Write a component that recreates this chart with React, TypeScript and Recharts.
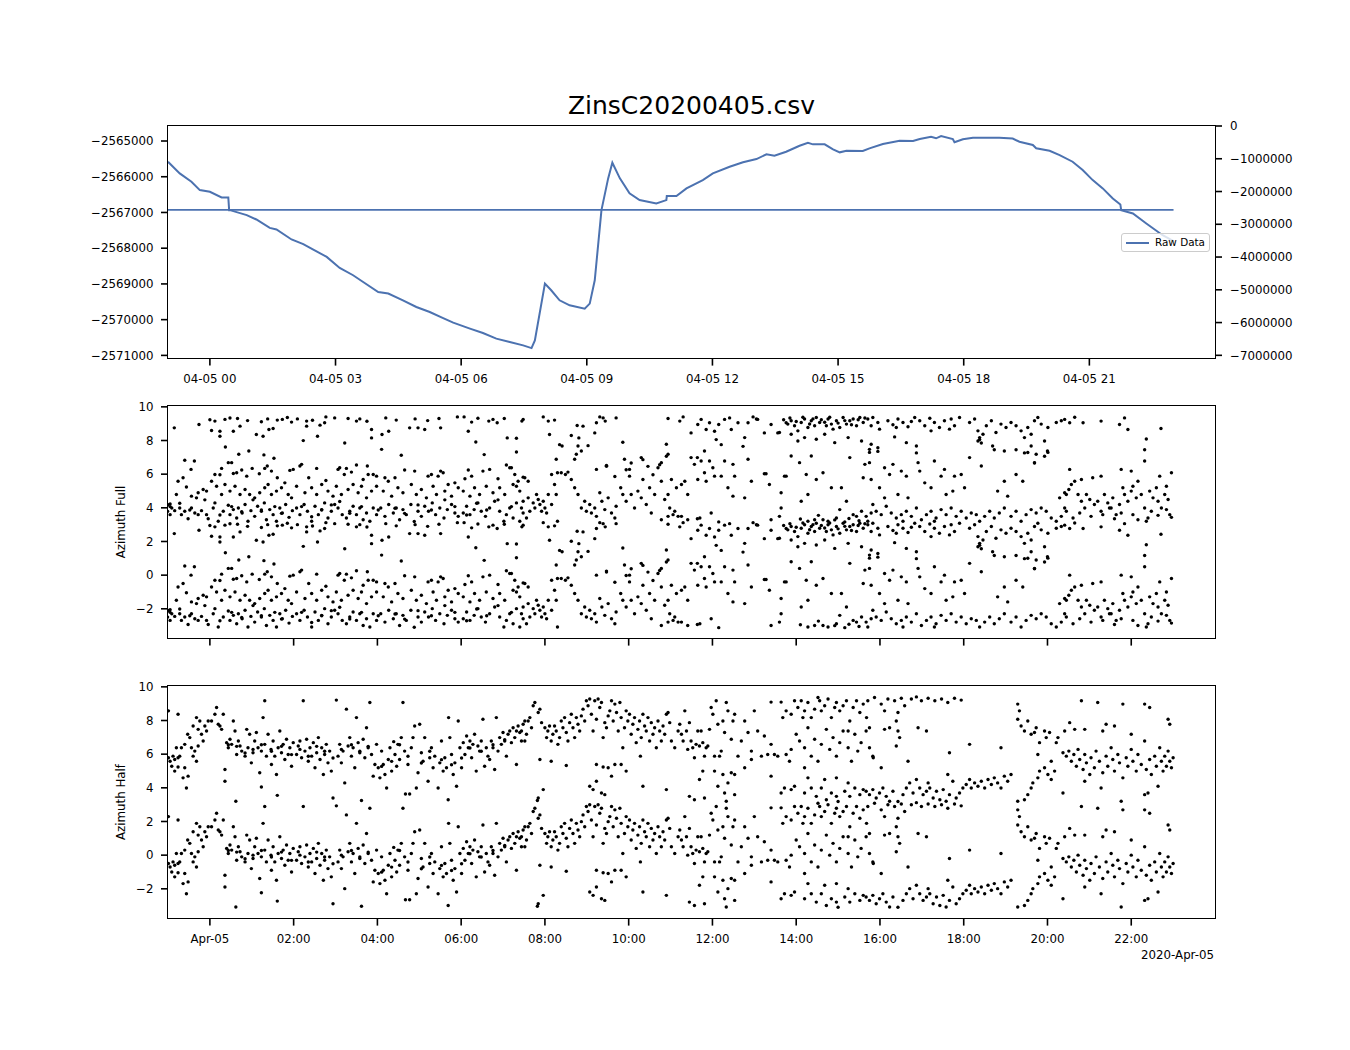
import React from 'react'
import { ComposedChart, Line, ScatterChart, Scatter, XAxis, YAxis } from 'recharts'

const TITLE = 'ZinsC20200405.csv'
const DATE_OFFSET = '2020-Apr-05'
const BLUE = '#4c72b0'
const TWO_PI = 2 * Math.PI

// hours after 2020-04-05 00:00
const rawHours = [
  -1.0, -0.72, -0.44, -0.24, 0.0, 0.28, 0.44, 0.46, 0.48, 0.88, 1.11, 1.43, 1.59, 1.95, 2.23, 2.47, 2.79,
  3.1, 3.42, 3.66, 4.02, 4.26, 4.61, 4.93, 5.25, 5.57, 5.81, 6.21, 6.52, 6.84, 7.16, 7.48, 7.68, 7.76,
  8.0, 8.15, 8.35, 8.59, 8.95, 9.07, 9.19, 9.35, 9.51, 9.61, 9.79, 10.02, 10.26, 10.66, 10.9, 10.91,
  11.14, 11.38, 11.77, 12.01, 12.41, 12.73, 13.05, 13.29, 13.48, 13.76, 14.08, 14.28, 14.4, 14.68,
  14.88, 15.04, 15.2, 15.59, 15.75, 16.07, 16.47, 16.79, 16.95, 17.22, 17.34, 17.46, 17.74, 17.78,
  17.98, 18.22, 18.85, 19.17, 19.33, 19.65, 19.73, 20.05, 20.29, 20.6, 20.84, 21.08, 21.32, 21.56,
  21.74, 21.76, 22.04, 22.36, 22.75, 23.01,
]
const rawValues = [
  -2565580, -2565906, -2566141, -2566374, -2566422, -2566579, -2566579, -2566935, -2566935, -2567075,
  -2567196, -2567431, -2567476, -2567756, -2567888, -2568037, -2568244, -2568553, -2568757, -2568945,
  -2569226, -2569270, -2569458, -2569646, -2569786, -2569955, -2570084, -2570252, -2570375, -2570532,
  -2570628, -2570720, -2570796, -2570580, -2568990, -2569178, -2569458, -2569599, -2569691, -2569551,
  -2568898, -2566935, -2566046, -2565608, -2566046, -2566466, -2566654, -2566747, -2566654, -2566542,
  -2566542, -2566326, -2566094, -2565906, -2565720, -2565597, -2565505, -2565373, -2565412, -2565300,
  -2565132, -2565048, -2565093, -2565093, -2565233, -2565317, -2565272, -2565280, -2565205, -2565084,
  -2564992, -2565000, -2564944, -2564879, -2564924, -2564860, -2564944, -2565036, -2564952, -2564907,
  -2564907, -2564930, -2565020, -2565112, -2565205, -2565272, -2565393, -2565580, -2565813, -2566094,
  -2566326, -2566607, -2566775, -2566935, -2567027, -2567308, -2567636, -2567804,
]
// flat line on the right axis
const levelHours = [-1.0, 23.01]
const levelValues = [-2560000, -2560000]

const topTicks = [0, 3, 6, 9, 12, 15, 18, 21]
const topTickLabels = ['04-05 00', '04-05 03', '04-05 06', '04-05 09', '04-05 12', '04-05 15', '04-05 18', '04-05 21']
const leftTicks = [-2571000, -2570000, -2569000, -2568000, -2567000, -2566000, -2565000]
const rightTicks = [-7000000, -6000000, -5000000, -4000000, -3000000, -2000000, -1000000, 0]
const hourTicks = [0, 2, 4, 6, 8, 10, 12, 14, 16, 18, 20, 22]
const hourTickLabels = ['Apr-05', '02:00', '04:00', '06:00', '08:00', '10:00', '12:00', '14:00', '16:00', '18:00', '20:00', '22:00']
const azTicks = [-2, 0, 2, 4, 6, 8, 10]

// [hour, angle in -pi..pi]; each angle is also drawn one turn higher
const azFull = [
  [-1.01,-2.49],[-1.0,-2.1],[-0.95,-2.05],[-0.95,-2.69],[-0.91,-2.29],[-0.85,2.47],[-0.84,-2.45],[-0.8,-1.49],[-0.76,-0.7],[-0.72,-2.29],
  [-0.68,-2.69],[-0.64,-0.5],[-0.6,-2.49],[-0.6,0.54],[-0.56,-1.05],[-0.52,-2.93],[-0.45,0.0],[-0.44,-2.29],[-0.44,-1.59],[-0.37,0.5],
  [-0.36,-2.59],[-0.32,-1.69],[-0.28,-2.69],[-0.28,-1.39],[-0.26,2.67],[-0.2,-2.45],[-0.16,-1.19],[-0.08,-2.69],[-0.08,-1.29],[-0.04,-2.93],
  [-0.95,-2.21],[-0.72,-2.01],[-0.48,-2.41],[-0.12,-1.81],[0.24,-2.71],[0.52,-2.21],[0.76,-2.51],[1.03,-1.81],[1.23,-2.41],[1.55,-2.21],
  [1.71,-2.61],[2.19,-2.21],[2.43,-2.81],[2.67,-2.41],[2.9,-2.11],[3.1,-1.91],[3.34,-2.61],[3.62,-2.21],[4.02,-2.41],[4.42,-2.31],
  [4.65,-2.61],[4.97,-2.11],[5.29,-2.41],[5.61,-1.81],[5.85,-2.21],[6.13,-2.71],[6.37,-2.01],[6.61,-2.41],[6.88,-1.81],[7.2,-2.21],
  [0.0,2.95],[0.48,3.05],[0.9,2.9],[1.38,3.0],[1.85,3.08],[2.45,2.92],[3.3,3.02],[3.75,2.86],[4.2,3.06],[4.9,3.0],
  [5.2,2.9],[6.4,3.04],
  [0.04,2.31],[0.12,2.87],[0.24,2.27],[0.24,1.97],[0.36,2.97],[0.37,1.33],[0.56,2.27],[0.66,3.02],[0.69,0.9],[0.72,2.57],
  [0.93,1.09],[1.11,2.07],[1.23,2.83],[1.27,1.97],[1.29,0.86],[1.41,2.37],[1.51,2.43],[1.53,0.66],[1.61,2.93],[1.73,2.97],[1.95,2.81],
  [0.12,-0.3],[0.24,-0.32],[0.28,0.06],[0.44,0.4],[0.52,0.4],[0.56,-0.24],[0.64,-0.2],[0.76,-0.04],[0.88,-0.4],[1.01,0.06],
  [1.18,-0.26],[1.31,0.06],[1.37,0.2],[1.47,-0.1],[1.61,-0.5],[1.91,-0.06],[1.99,0.0],
  [0.04,-0.7],[0.16,-1.0],[0.28,-1.49],[0.36,-0.9],[0.48,-1.29],[0.6,-1.0],[0.72,-1.49],[0.84,-1.19],[0.95,-1.49],[1.07,-1.69],
  [1.19,-1.39],[1.31,-1.09],[1.39,-0.9],[1.47,-1.49],[1.59,-1.29],[1.71,-1.09],[1.79,-0.8],[1.87,-1.49],[1.95,-1.69],
  [0.08,-2.29],[0.12,-1.99],[0.2,-3.08],[0.32,-2.49],[0.44,-2.13],[0.48,-2.69],[0.56,-2.39],[0.64,-2.89],[0.68,-2.29],[0.77,-2.59],
  [0.84,-2.09],[0.91,-3.08],[0.98,-2.45],[1.07,-2.79],[1.14,-2.19],[1.23,-2.49],[1.3,-1.99],[1.35,-2.99],[1.43,-2.39],[1.51,-2.69],
  [1.59,-3.08],[1.67,-2.29],[1.73,-2.59],[1.81,-2.09],[1.89,-2.85],[1.97,-2.45],
  [2.09,3.0],[2.23,1.71],[2.31,2.87],[2.31,2.57],[2.57,1.97],[2.63,2.63],[2.74,2.77],[2.77,3.12],[2.98,3.06],[3.22,1.57],
  [3.5,2.87],[3.58,3.0],[3.86,2.37],[3.86,1.87],
  [2.15,0.2],[2.19,0.3],[2.36,-0.5],[2.55,0.06],[2.77,-0.66],[3.06,0.0],[3.1,0.1],[3.21,-0.3],[3.26,0.06],[3.38,-0.16],
  [3.5,0.26],[3.66,-0.6],[3.76,0.2],[3.78,-0.3],[3.9,-0.3],[3.98,-0.4],
  [2.07,-1.0],[2.27,-1.39],[2.43,-1.09],[2.55,-1.49],[2.67,-0.9],[2.82,-1.29],[2.94,-1.59],[3.02,-1.0],[3.14,-1.49],[3.3,-1.19],
  [3.42,-0.9],[3.54,-1.39],[3.62,-1.0],[3.74,-1.69],[3.86,-1.29],[3.98,-1.0],
  [2.07,-2.29],[2.15,-2.69],[2.25,-2.09],[2.33,-2.49],[2.43,-3.08],[2.51,-2.19],[2.59,-2.69],[2.67,-2.39],[2.74,-1.99],[2.82,-2.89],
  [2.9,-2.49],[2.98,-2.09],[3.06,-2.29],[3.16,-2.69],[3.26,-2.89],[3.34,-2.49],[3.42,-2.19],[3.5,-2.69],[3.58,-2.29],[3.66,-2.99],
  [3.74,-2.59],[3.82,-3.08],[3.9,-2.29],[3.98,-2.69],
  [4.11,2.07],[4.27,2.27],[4.45,2.93],[4.57,0.84],[4.77,2.47],[4.97,2.47],[5.13,2.37],[5.47,3.02],[5.51,2.47],[5.91,3.12],[4.1,1.19],
  [4.65,-0.04],[4.89,-0.1],[5.21,-0.4],[5.29,-0.3],[5.51,-0.1],[5.45,-0.4],[5.57,-0.2],[5.69,-0.9],[5.85,-0.8],[4.18,-0.5],
  [4.26,-0.7],[4.42,-0.5],
  [4.14,-1.29],[4.34,-1.59],[4.49,-1.09],[4.61,-1.39],[4.81,-0.9],[4.93,-1.49],[5.05,-1.19],[5.17,-1.69],[5.33,-1.0],[5.41,-1.49],
  [5.61,-1.29],[5.77,-1.59],[5.93,-1.09],
  [4.08,-2.29],[4.18,-2.79],[4.27,-2.09],[4.38,-2.59],[4.45,-2.29],[4.53,-2.99],[4.61,-2.39],[4.69,-2.69],[4.8,-2.09],[4.88,-3.1],
  [4.97,-2.49],[5.05,-2.79],[5.13,-2.19],[5.22,-2.49],[5.31,-1.99],[5.39,-2.69],[5.49,-2.29],[5.59,-2.89],[5.67,-2.39],[5.77,-2.09],
  [5.85,-2.59],[5.93,-2.79],
  [6.07,3.12],[6.17,2.27],[6.25,2.81],[6.35,1.63],[6.55,0.88],[6.66,2.87],[6.76,2.97],[6.86,2.77],[7.03,3.02],[7.1,1.87],
  [7.32,1.03],[7.32,1.85],[7.45,2.87],
  [6.17,-0.04],[6.09,-0.56],[6.25,-0.4],[6.52,-0.1],[6.68,0.0],[6.88,-0.56],[7.08,0.26],[7.16,0.1],[7.2,0.1],[7.28,-0.3],
  [7.36,-0.7],[7.48,-0.46],
  [6.05,-1.29],[6.21,-1.59],[6.32,-1.09],[6.44,-1.49],[6.6,-1.0],[6.76,-1.39],[6.92,-1.09],[7.04,-1.49],[7.24,-0.9],[7.4,-1.29],
  [6.05,-2.59],[6.13,-2.19],[6.21,-2.69],[6.31,-2.39],[6.4,-1.99],[6.48,-2.49],[6.58,-2.79],[6.68,-2.29],[6.8,-1.89],[6.92,-2.49],
  [7.02,-3.08],[7.08,-2.69],[7.16,-2.29],[7.24,-2.89],[7.32,-1.99],[7.4,-3.08],[7.48,-2.59],
  [7.32,-1.0],[7.52,-0.5],[7.6,-0.7],[7.48,-1.89],[7.6,-1.69],[7.72,-1.99],[7.76,-2.29],[7.84,-1.79],[7.88,-2.09],
  [7.96,-1.89],[8.0,-2.29],[8.04,-2.59],[8.08,-1.49],[8.16,-2.09],[7.44,-2.29],[7.56,-2.89],[7.64,-2.49],[7.92,-2.49],
  [7.8,-1.49],[8.23,-0.9],[8.27,-1.49],[8.3,-3.08],[8.16,-0.3],[8.3,-0.2],[8.39,-0.2],[8.49,-0.3],[8.55,-0.16],[8.27,0.6],
  [8.71,0.6],[8.75,0.9],[8.87,1.09],[8.63,-0.6],[8.71,-1.09],
  [7.48,2.97],[7.96,3.12],[8.08,2.87],[8.11,2.07],[8.23,2.93],[8.35,1.47],[8.41,1.39],[8.63,2.01],[8.77,2.61],[8.81,1.87],
  [8.91,2.57],[9.03,1.41],[9.19,2.17],[9.23,2.77],[9.31,3.12],[9.39,3.06],[9.44,2.87],[9.7,3.06],[9.86,1.61],
  [8.79,-1.49],[8.87,-2.29],[8.95,-1.89],[8.99,-2.49],[9.07,-2.09],[9.11,-2.59],[9.19,-2.29],[9.23,-2.79],[9.31,-1.39],[9.36,-1.89],
  [9.43,-2.39],[9.51,-1.69],[9.59,-2.59],[9.67,-2.89],[9.7,-2.19],[9.81,-1.09],[9.86,-1.49],[9.94,-1.89],[10.02,-0.4],[10.06,-1.49],
  [10.14,-2.29],[10.22,-1.29],[10.3,-1.69],[10.34,-0.6],[10.42,-2.09],[10.5,-1.09],[10.54,-2.59],[10.62,-1.49],[10.7,0.1],[10.78,-0.7],
  [10.86,-1.79],[10.94,-1.49],[10.98,-2.29],[11.06,-2.69],[11.14,-1.09],[11.18,-2.79],[11.26,-0.9],
  [9.23,0.0],[9.47,0.24],[9.9,0.6],[10.02,0.0],[10.3,0.7],[10.78,0.4],[10.94,0.9],[10.9,1.49],[8.79,1.39],
  [9.47,0.18],[9.67,-0.42],[9.94,-0.02],[10.06,0.38],[10.34,0.58],[10.46,0.18],[10.58,-0.32],[10.74,0.28],[10.9,0.78],
  [11.34,-0.7],[11.41,-1.49],[11.49,0.7],[11.57,0.3],[11.65,-0.6],[11.73,0.5],[11.81,-0.2],[11.85,-0.7],[11.93,0.5],[12.01,0.1],
  [12.05,-0.4],[12.21,-0.4],[12.29,0.5],[12.37,-1.09],[12.49,0.3],[12.53,-0.4],[12.49,-1.59],[12.77,-1.69],[12.85,0.6],[12.93,-0.7],
  [13.24,-0.26],[13.28,-0.26],[13.36,-0.9],[13.64,-1.39],[13.72,-0.4],[13.76,-0.4],[11.41,-2.99],[11.64,-2.93],[11.7,-2.89],[11.97,-2.59],
  [12.15,-3.12],[13.4,-2.99],[13.64,-2.29],[13.6,-2.79],[11.02,-0.6],[11.1,-2.49],[11.26,-2.79],[10.78,-2.99],[10.94,-2.79],[11.64,0.7],
  [11.81,1.09],
  [10.94,3.02],[11.22,2.87],[11.3,3.12],[11.49,2.17],[11.65,2.67],[11.73,2.97],[11.85,2.37],[11.93,2.77],[12.05,2.27],[12.09,1.77],
  [12.15,2.67],[12.21,1.47],[12.29,2.97],[12.41,3.06],[12.45,2.37],[12.61,2.77],[12.73,1.37],[12.85,2.77],[12.97,3.12],[13.08,2.97],
  [13.24,2.17],[13.4,2.67],[13.56,2.17],[13.76,2.77],[12.77,1.89],[13.05,2.99],[13.6,2.19],
  [13.8,2.69],[13.88,2.89],[13.96,2.59],[14.04,2.29],[14.12,2.79],[14.2,2.99],[14.28,2.49],[14.36,2.89],[14.44,2.59],[14.48,3.08],
  [14.56,2.79],[14.72,2.59],[14.76,2.99],[14.84,2.69],[14.88,2.39],[14.96,2.89],[15.04,2.49],[15.12,3.08],[15.2,2.69],[15.28,2.89],
  [15.36,2.99],[15.44,2.59],[15.52,3.08],[15.6,2.79],
  [13.7,2.95],[13.85,3.05],[14.0,2.85],[14.16,3.1],[14.32,2.7],[14.4,3.0],[14.6,2.95],[14.68,2.8],[14.8,3.1],[15.0,2.75],
  [15.16,2.9],[15.32,2.65],[15.48,2.95],[15.64,3.05],
  [13.88,2.09],[14.04,1.69],[14.2,1.89],[14.48,1.79],[14.68,2.09],[14.92,1.59],[15.24,1.89],[15.56,1.69],[15.79,1.49],
  [14.28,-3.08],[14.44,-2.99],[14.53,-2.73],[14.64,-2.99],[14.76,-3.08],[14.96,-2.89],[15.16,-3.12],[15.36,-2.69],[15.44,-2.79],[15.56,-2.49],
  [14.1,-2.95],[14.92,-3.0],[15.26,-2.92],[15.5,-3.05],
  [13.88,0.8],[14.08,0.4],[14.24,-0.3],[14.36,0.8],[14.48,-0.6],[14.64,-0.2],[14.84,-1.09],[15.08,-1.09],[15.2,-1.89],[15.28,0.7],
  [15.6,-0.5],[15.79,-0.6],[14.12,-1.89],[14.28,-1.49],[15.04,-2.39],[15.64,0.3],[15.83,-2.09],
  [15.71,2.99],[15.83,3.08],[15.95,2.79],[16.19,2.89],[16.31,2.65],[16.43,2.99],[16.55,2.79],[16.67,2.53],[16.83,3.08],[16.95,2.89],
  [17.07,2.59],[17.19,3.04],[17.3,2.79],[17.42,2.49],[17.54,2.89],[17.66,2.39],[17.78,2.59],[17.9,3.08],[15.79,2.59],[15.99,2.39],
  [16.39,2.49],[16.75,2.85],[17.22,2.29],[17.7,2.99],
  [15.67,-2.79],[15.79,-2.59],[15.91,-2.49],[16.03,-2.69],[16.15,-2.19],[16.27,-2.59],[16.39,-2.89],[16.51,-2.69],[16.63,-2.49],[16.75,-2.79],
  [16.87,-2.29],[16.99,-2.99],[17.11,-2.69],[17.22,-2.49],[17.34,-2.89],[17.46,-2.39],[17.58,-2.69],[17.7,-2.29],[17.82,-2.79],[17.94,-2.49],
  [15.71,-3.08],[16.55,-3.08],[17.3,-3.08],
  [15.75,1.19],[15.95,1.29],[15.75,0.4],[15.99,-1.09],[16.11,0.1],[16.23,-0.3],[16.31,0.3],[16.43,-1.49],[16.51,-0.1],[16.63,-0.4],
  [16.67,-1.69],[16.87,1.39],[16.91,0.4],[16.95,-0.1],[17.07,-0.8],[17.22,-1.09],[17.3,0.5],[17.46,-0.4],[17.54,0.0],[17.58,-1.49],
  [17.74,-1.29],[17.78,-0.4],[17.94,-0.3],[18.02,-1.09],[18.14,0.7],[16.11,-1.69],[16.63,1.59],[16.35,1.93],[15.95,1.07],[15.75,1.01],
  [16.87,0.98],
  [18.14,2.79],[18.26,2.99],[18.34,2.29],[18.38,1.89],[18.46,2.09],[18.54,2.59],[18.66,2.89],[18.77,2.19],[18.89,2.69],[19.01,2.49],
  [19.13,2.79],[19.25,2.59],[19.37,2.29],[19.45,1.89],[19.53,2.49],[19.61,2.09],[19.69,2.89],[19.77,3.08],[19.85,2.69],[19.93,1.69],
  [20.01,2.49],[20.21,2.79],[20.33,2.89],[18.34,1.69],[18.69,1.39],[18.97,1.09],[19.61,1.39],[19.73,0.9],[20.0,1.09],
  [18.06,-2.89],[18.18,-2.59],[18.3,-2.69],[18.38,-3.08],[18.5,-2.79],[18.62,-2.49],[18.73,-2.89],[18.85,-2.59],[18.97,-2.29],[19.13,-2.79],
  [19.25,-2.49],[19.37,-3.08],[19.49,-2.69],[19.61,-2.39],[19.73,-2.59],[19.85,-2.29],[19.97,-2.49],[20.09,-2.89],[20.21,-3.08],[20.33,-2.79],
  [20.41,-2.29],
  [18.42,0.2],[18.81,-1.29],[19.05,-1.59],[19.25,-0.3],[19.41,-0.7],[19.53,1.0],[19.69,0.4],[18.97,-0.7],[20.29,-1.69],[20.41,-1.39],
  [18.38,1.77],[18.42,1.57],[18.73,1.17],[19.25,1.17],[19.45,0.98],[19.69,0.38],[19.93,0.78],[20.01,1.01],
  [20.45,-1.49],[20.51,-1.19],[20.57,-0.9],[20.65,-0.7],[20.73,-1.49],[20.81,-1.89],[20.89,-2.29],[20.93,-1.49],[21.01,-1.79],[21.08,-0.5],
  [21.12,-2.09],[21.2,-1.89],[21.28,-2.49],[21.36,-1.49],[21.44,-1.99],[21.52,-2.29],[21.56,-1.69],[21.64,-2.69],[21.72,-2.09],[21.8,-1.09],
  [21.84,-1.49],[21.92,-1.89],[22.0,-1.29],[22.04,-1.0],[22.12,-1.69],[22.16,-0.7],[22.24,-1.49],[22.32,-2.29],[22.4,-2.89],[22.44,-1.29],
  [22.52,-1.69],[22.6,-1.09],[22.64,-1.89],[22.72,-2.29],[22.8,-1.49],[22.84,-1.0],[22.88,-1.79],[22.92,-2.69],[22.96,-0.2],[22.68,-0.4],
  [22.0,-0.1],[21.76,0.0],[22.32,0.5],[20.53,0.0],[20.81,-0.6],[21.28,-0.4],
  [20.41,2.97],[20.53,2.77],[20.65,3.1],[20.85,2.77],[21.28,2.87],[21.72,2.67],[21.84,3.06],[21.92,2.37],[22.36,1.81],[22.32,1.17],
  [22.71,2.43],
  [20.45,-2.49],[20.61,-2.89],[20.77,-2.59],[21.04,-2.79],[21.32,-2.69],[21.48,-2.29],[21.6,-2.93],[21.76,-2.59],[22.04,-2.69],[22.16,-2.99],
  [22.36,-3.08],[22.48,-2.49],[22.64,-2.73],[22.84,-2.39],[22.96,-2.85],
]

const azHalf = [
  [-0.99,-0.5],[-0.95,-0.7],[-0.91,-1.0],[-0.88,-0.4],[-0.84,-0.6],[-0.76,-0.5],[-0.72,-0.4],[-0.68,0.1],[-0.84,-1.29],[-0.8,0.1],
  [-0.76,-1.05],[-0.99,2.29],[-0.64,-1.69],[-0.6,-1.09],[-0.56,-2.29],[-0.52,-1.59],[-0.6,0.3],[-0.53,0.9],[-0.48,0.7],[-0.44,0.1],
  [-0.4,-0.4],[-0.36,-0.1],[-0.32,-0.7],[-0.28,0.2],[-0.28,1.19],[-0.24,1.69],[-0.2,0.9],[-0.16,0.5],[-0.12,1.39],[-0.08,1.09],
  [-0.04,1.69],[-0.4,1.39],[-0.76,2.09],[-0.32,1.89],
  [0.44,0.28],[0.64,0.18],[0.84,-0.21],[1.03,0.0],[1.23,0.28],[1.47,-0.11],[1.71,0.18],[1.95,-0.31],[2.15,0.0],[2.35,-0.41],
  [2.55,0.18],[2.74,-0.11],[2.94,-0.51],[3.14,0.0],[3.38,0.28],[3.58,-0.11],[3.78,0.18],[4.1,-1.01],[4.34,-0.71],[4.53,0.28],
  [4.73,-0.41],[5.05,-0.81],[5.25,-0.11],[5.53,-0.61],[5.77,-0.91],[6.01,-0.51],[6.21,0.08],[6.48,-0.11],[6.76,0.28],[7.04,0.58],
  [0.04,1.69],[0.12,2.09],[0.16,2.49],[0.2,1.49],[0.24,1.39],[0.28,1.19],[0.32,2.09],[0.36,-1.19],[0.36,-1.89],[0.4,0.4],
  [0.44,0.1],[0.48,0.6],[0.52,0.3],[0.56,1.69],[0.6,1.09],[0.64,-0.3],[0.68,0.5],[0.72,0.2],[0.76,-0.1],[0.84,-0.4],
  [0.88,1.19],[0.91,0.1],[0.95,0.9],[0.99,-0.8],[1.03,-0.2],[1.07,0.5],[1.11,1.0],[1.15,0.1],[1.19,-1.39],[1.23,-0.1],
  [1.27,1.89],[1.31,0.3],[1.35,-0.4],[1.39,0.9],[1.46,0.0],[1.47,-0.9],[1.51,0.5],[1.55,-0.4],[1.59,-1.49],[1.63,0.1],
  [1.67,1.09],[1.71,-0.2],[1.75,0.3],[1.79,-0.6],[1.83,0.6],[1.87,-0.3],[1.91,0.1],[1.95,-1.0],[1.99,0.4],[0.62,-3.08],
  [1.61,-2.73],[1.23,-2.23],[1.31,2.89],
  [2.07,-0.3],[2.11,0.2],[2.15,0.5],[2.19,-0.5],[2.23,2.89],[2.27,-0.1],[2.31,0.6],[2.35,-0.7],[2.39,0.1],[2.43,-0.4],
  [2.47,0.4],[2.51,-1.09],[2.55,-0.2],[2.59,0.7],[2.63,-0.6],[2.67,0.1],[2.71,-1.49],[2.74,-0.3],[2.78,0.3],[2.82,-0.8],
  [2.86,-0.1],[2.9,-1.29],[2.94,-2.89],[3.02,2.93],[3.06,-0.4],[3.1,0.3],[3.14,-0.8],[3.18,-0.1],[3.22,-1.99],[3.26,2.39],
  [3.3,0.2],[3.34,0.7],[3.38,-0.4],[3.42,0.1],[3.46,-1.09],[3.5,1.89],[3.54,0.4],[3.58,-0.2],[3.62,-3.04],[3.66,0.6],
  [3.7,-0.5],[3.74,1.29],[3.78,0.1],[3.82,2.79],[3.86,-0.3],[3.9,-1.59],[3.94,-0.9],[3.98,0.3],[4.02,-1.09],
  [4.06,-1.69],[4.1,-0.1],[4.14,-0.9],[4.18,-1.49],[4.22,-2.29],[4.26,-0.6],[4.3,0.1],[4.34,-1.29],[4.39,0.46],[4.42,-0.3],
  [4.46,-1.0],[4.49,0.3],[4.53,-0.6],[4.57,0.7],[4.61,2.79],[4.65,-0.1],[4.67,-2.65],[4.73,-0.9],[4.77,-2.65],[4.81,0.1],
  [4.85,0.7],[4.89,1.39],[4.93,-2.29],[4.97,-1.39],[5.01,1.49],[5.05,-0.2],[5.09,-0.7],[5.13,0.7],[5.21,-1.89],[5.25,-0.5],
  [5.29,0.1],[5.33,-1.09],[5.37,-0.4],[5.45,-2.29],[5.49,-0.8],[5.53,0.5],[5.57,-1.29],[5.61,-0.5],[5.65,-1.09],[5.69,-2.99],
  [5.7,1.89],[5.73,0.7],[5.77,-0.3],[5.81,-1.49],[5.85,-0.8],[5.89,-2.19],[5.93,1.69],[5.97,0.1],
  [6.01,-1.09],[6.05,0.4],[6.09,-0.3],[6.13,0.8],[6.17,0.1],[6.21,0.5],[6.25,-0.5],[6.28,0.3],[6.32,0.9],[6.36,-1.29],
  [6.4,0.2],[6.44,-0.1],[6.48,0.5],[6.52,1.79],[6.56,-1.0],[6.6,0.1],[6.64,-0.4],[6.68,-0.6],[6.72,0.5],[6.76,0.1],
  [6.8,-1.19],[6.84,1.89],[6.88,-0.1],[6.92,0.7],[6.96,0.3],[7.0,1.0],[7.04,0.5],[7.08,-0.4],[7.12,0.9],[7.16,1.09],
  [7.2,0.4],[7.24,1.29],[7.28,0.7],[7.32,-0.9],[7.36,1.39],[7.4,1.0],[7.44,0.5],[7.48,1.49],[7.52,1.69],
  [7.32,1.09],[7.44,1.09],[7.52,0.5],[7.56,0.9],[7.6,1.69],[7.64,1.89],[7.68,1.29],
  [7.72,2.59],[7.76,2.79],[7.84,2.19],[7.88,2.39],[7.92,1.59],[8.0,1.29],[8.04,0.7],[8.07,1.09],[8.11,1.39],[8.15,0.5],
  [8.19,0.9],[8.23,1.39],[8.27,1.09],[8.31,0.3],[7.88,-0.6],[8.15,-0.7],[8.51,-0.96],[7.84,-2.89],[7.96,-2.39],
  [7.82,-3.04],
  [8.35,0.7],[8.39,1.69],[8.43,1.29],[8.47,1.89],[8.51,1.0],[8.55,0.5],[8.59,1.59],[8.63,2.09],[8.67,1.29],[8.71,0.7],
  [8.75,1.89],[8.79,1.49],[8.83,1.09],[8.87,1.99],[8.91,2.39],[8.95,1.69],[8.99,2.89],[9.03,2.59],[9.07,2.99],[9.11,2.09],
  [9.15,1.09],[9.19,2.89],[9.23,1.79],[9.27,2.99],[9.31,2.49],[9.35,2.79],[9.39,0.7],[9.43,1.59],[9.47,1.29],[9.51,1.99],
  [9.55,2.29],[9.59,2.89],[9.63,1.69],[9.67,2.69],[9.71,2.19],[9.75,1.09],[9.79,2.79],[9.82,1.89],[9.86,0.1],[9.9,1.29],
  [9.94,2.29],[9.98,1.69],[10.02,2.09],[10.06,0.9],[10.1,1.49],[10.14,1.89],[10.18,0.4],[10.22,1.19],[10.26,1.69],[10.3,0.7],
  [10.34,2.09],[10.38,1.39],[10.42,1.09],[10.46,1.89],[10.5,0.5],[10.54,1.59],[10.58,0.9],[10.62,1.29],[10.66,0.1],[10.7,1.69],
  [10.74,1.09],[10.78,0.5],[10.82,1.39],[10.86,0.9],[10.9,2.09],[10.94,2.19],[10.98,1.59],[11.02,0.5],[11.1,0.1],[11.18,1.09],
  [11.22,1.49],
  [9.23,-0.9],[9.39,-1.05],[9.51,-1.09],[9.67,-0.9],[9.82,-0.9],[9.94,-1.29],[9.59,-1.59],[9.07,-2.19],[9.15,-2.39],[9.23,-1.89],
  [9.35,-2.59],[9.43,-2.69],[10.34,-2.19],[10.9,-2.39],[10.28,-0.4],
  [11.26,0.9],[11.3,0.5],[11.34,2.29],[11.38,1.09],[11.41,0.0],[11.45,1.59],[11.49,0.5],[11.53,0.1],[11.57,-0.5],[11.61,0.3],
  [11.65,1.09],[11.69,0.2],[11.73,1.09],[11.77,0.4],[11.81,-0.4],[11.85,0.1],[11.89,0.2],[11.93,1.19],[11.97,2.49],[12.01,2.09],
  [12.05,-0.4],[12.09,2.89],[12.13,1.49],[12.17,-0.4],[12.21,-0.1],[12.25,1.69],[12.29,1.0],[12.33,2.79],[12.37,2.29],[12.45,0.6],
  [12.49,1.69],[12.53,2.09],[12.61,-0.4],[12.69,0.5],[12.77,1.69],[12.85,1.0],[12.93,-0.1],[13.0,2.29],[13.08,1.09],[13.17,-0.4],
  [13.24,0.8],[13.32,-0.3],[13.4,0.3],[13.48,-0.3],[13.56,-0.4],
  [11.45,-2.79],[11.57,-2.99],[11.69,-1.79],[11.77,-1.29],[11.81,-2.89],[12.05,-1.29],[12.13,-2.19],[12.25,-1.49],[12.29,-2.59],[12.33,-3.08],
  [12.37,-1.99],[12.45,-1.39],[12.53,-1.49],[12.53,-2.69],[12.77,-1.09],[12.93,-0.6],[13.4,-1.59],[13.64,-2.59],[13.4,2.81],
  [13.64,2.81],[13.68,1.89],[13.76,2.29],[13.88,2.09],[13.96,2.89],[14.04,2.49],[14.12,2.89],[14.16,1.89],[14.2,2.29],[14.28,2.79],
  [14.36,1.89],[14.44,2.39],[14.52,3.08],[14.56,2.89],[14.6,2.29],[14.68,2.59],[14.76,2.99],[14.84,1.89],[14.92,2.49],[14.96,2.79],
  [15.04,2.29],[15.12,2.59],[15.2,2.89],[15.28,1.69],[15.36,2.49],[15.44,2.89],[15.52,2.19],[15.6,2.69],[15.68,1.89],
  [13.76,-0.3],[13.88,0.0],[14.0,0.9],[14.08,0.5],[14.2,0.1],[14.28,1.29],[14.36,-0.4],[14.44,0.6],[14.52,-0.7],[14.6,0.3],
  [14.72,1.19],[14.8,0.0],[14.88,0.7],[14.96,-0.4],[15.04,0.4],[15.12,1.09],[15.24,0.1],[15.32,-0.7],[15.4,0.9],[15.47,-0.1],
  [15.55,0.4],[15.67,1.09],[15.75,0.1],[15.84,-0.5],[13.84,-0.7],[14.2,-1.09],[15.24,1.09],
  [13.72,-2.29],[13.88,-2.39],[13.96,-2.19],[14.2,-2.59],[14.36,-2.29],[14.48,-2.79],[14.6,-2.29],[14.72,-2.99],[14.84,-2.59],[14.96,-2.79],
  [15.0,-3.1],[15.16,-2.49],[15.28,-2.79],[15.4,-2.29],[15.52,-2.69],[15.6,-2.39],[14.28,-1.69],[14.68,-1.79],
  [14.96,-1.69],[15.24,-1.99],
  [15.67,-2.49],[15.75,-2.69],[15.83,-2.39],[15.91,-2.89],[15.99,-2.59],[16.07,-2.29],[16.15,-2.79],[16.23,-3.08],[16.31,-2.49],[16.43,-3.1],
  [16.55,-2.69],[16.63,-2.29],[16.71,-1.99],[16.79,-2.59],[16.87,-1.79],[16.95,-2.29],[17.03,-2.69],[17.11,-2.49],[17.19,-2.29],[17.27,-2.89],
  [17.35,-2.49],[17.43,-2.99],[17.51,-2.39],[17.58,-3.08],[17.66,-2.69],[17.74,-1.89],[17.82,-2.89],[17.9,-2.59],[17.98,-2.29],[18.06,-2.09],
  [18.14,-1.79],[18.18,-2.29],[18.26,-1.99],[18.34,-2.19],[18.42,-1.89],[18.5,-2.29],[18.58,-1.79],[18.66,-2.09],[18.73,-1.69],[18.81,-1.99],
  [18.89,-2.29],[18.97,-1.59],[19.05,-1.89],[19.13,-1.49],[17.62,-1.49],[17.15,-1.99],
  [15.71,2.89],[15.87,3.08],[16.03,2.69],[16.19,2.99],[16.35,2.89],[16.51,3.04],[16.59,2.59],[16.75,2.99],[16.87,3.12],[16.99,2.89],
  [17.15,3.04],[17.31,2.89],[17.47,2.99],[17.62,2.79],[17.78,3.04],[17.94,2.93],[16.11,2.29],[16.43,2.19],
  [15.75,1.29],[16.11,1.19],[16.23,1.29],[16.39,1.69],[16.43,1.09],[16.47,0.7],[16.91,1.29],[17.11,1.09],[17.66,-0.2],[18.14,0.3],
  [15.83,-0.4],[16.03,-1.09],[16.67,-0.7],[16.39,0.2],[18.89,0.1],[19.29,1.79],
  [19.29,2.69],[19.33,2.29],[19.37,1.39],[19.45,1.09],[19.53,1.69],[19.61,0.9],[19.69,1.0],[19.73,1.29],[19.81,0.4],
  [19.77,-0.3],[19.93,1.09],[19.97,0.7],[20.05,1.0],[20.09,-0.7],[20.21,0.4],[20.25,0.7],[20.37,-0.2],[20.41,1.09],[19.29,-3.08],
  [19.45,-2.99],[19.53,-2.69],[19.61,-2.29],[19.65,-1.99],[19.77,-1.69],[19.81,-1.29],[19.93,-1.09],[20.01,-1.49],[20.09,-1.79],[20.17,-1.29],
  [20.45,-0.4],[20.51,-0.1],[20.57,-0.7],[20.63,-0.3],[20.69,-1.0],[20.73,0.0],[20.77,-0.6],[20.85,-1.19],[20.89,-0.3],[20.93,-0.8],
  [21.01,-1.49],[21.04,-0.5],[21.12,-1.09],[21.16,-0.1],[21.24,-0.7],[21.28,-2.29],[21.32,-1.39],[21.4,-0.4],[21.44,-1.0],[21.52,0.1],
  [21.56,-0.6],[21.6,-1.29],[21.68,-0.3],[21.72,-0.8],[21.76,-3.08],[21.8,-1.69],[21.88,-0.5],[21.92,-1.0],[22.0,0.0],[22.04,-0.7],
  [22.12,-1.29],[22.16,-0.3],[22.24,-0.9],[22.32,0.5],[22.36,-1.19],[22.4,-2.59],[22.44,-0.6],[22.48,-1.49],[22.56,-0.4],[22.6,-1.0],
  [22.64,-2.19],[22.68,0.1],[22.72,-0.7],[22.76,-1.29],[22.8,-0.4],[22.84,-1.0],[22.88,-0.1],[22.92,-0.7],[22.96,-1.09],[23.0,-0.5],
  [20.37,-2.59],[20.89,-1.89],[22.32,-2.69],
  [20.53,1.59],[20.65,1.19],[20.89,1.19],[21.2,2.79],[21.32,1.09],[21.4,1.49],[21.6,1.39],[21.8,2.69],[22.0,0.9],[22.32,2.69],
  [22.44,2.49],[22.88,1.79],[22.92,1.49],[20.81,2.89],
]

// layout of the figure (matplotlib-like, 1350x1050)
const PLOT_LEFT = 168
const PLOT_WIDTH = 1047
const PLOT_HEIGHT = 232.6
const PANEL_TOPS = [125.7, 405.8, 685.9]
const CHART_PAD_TOP = 40
const CHART_H = 320
const AXIS_H = CHART_H - CHART_PAD_TOP - PLOT_HEIGHT
const FONT = '"DejaVu Sans", sans-serif'
const TICK_STYLE = { fontSize: 11.8, fill: '#000' }
const TICK_LINE = { stroke: '#000', strokeWidth: 1.6 }

const minus = (v: number) => (v < 0 ? '\u2212' + Math.abs(v) : String(v))

const rawData = rawHours.map((t, i) => {
  const k = levelHours.indexOf(t)
  return { t, raw: rawValues[i], level: k >= 0 ? levelValues[k] : undefined }
})

const wrapTurn = (pts: number[][]) =>
  pts.flatMap(([t, a]) => [{ t, a }, { t, a: a + TWO_PI }])

const Dot = (props: any) => <circle cx={props.cx} cy={props.cy} r={1.7} fill="#000" />

function Frame({ top }: { top: number }) {
  return (
    <div
      style={{
        position: 'absolute',
        left: PLOT_LEFT - 0.85,
        top: top - 0.85,
        width: PLOT_WIDTH + 1.7,
        height: PLOT_HEIGHT + 1.7,
        border: '1.7px solid #000',
        boxSizing: 'border-box',
        pointerEvents: 'none',
      }}
    />
  )
}

function AzimuthPanel({ top, points, label, showHours }: {
  top: number; points: number[][]; label: string; showHours: boolean
}) {
  const data = wrapTurn(points)
  return (
    <>
      <div style={{ position: 'absolute', left: 0, top: top - CHART_PAD_TOP }}>
        <ScatterChart width={1350} height={CHART_H}
          margin={{ top: CHART_PAD_TOP, right: 1350 - PLOT_LEFT - PLOT_WIDTH, bottom: 0, left: 0 }}>
          <XAxis type="number" dataKey="t" domain={[-1, 24]} allowDataOverflow ticks={hourTicks}
            interval={0} height={AXIS_H} axisLine={false} tickLine={TICK_LINE} tickSize={7} tickMargin={9}
            tick={TICK_STYLE}
            tickFormatter={(v: number) => (showHours ? hourTickLabels[hourTicks.indexOf(v)] : '')} />
          <YAxis type="number" dataKey="a" domain={[-3.77, 10.05]} allowDataOverflow ticks={azTicks}
            interval={0} width={PLOT_LEFT} axisLine={false} tickLine={TICK_LINE} tickSize={7} tickMargin={7.5}
            tick={TICK_STYLE} tickFormatter={minus} />
          <Scatter data={data} shape={Dot} isAnimationActive={false} />
        </ScatterChart>
      </div>
      <Frame top={top} />
      <div style={{
        position: 'absolute', left: 122, top: top + PLOT_HEIGHT / 2, fontSize: 11.8, lineHeight: 1,
        whiteSpace: 'nowrap', transform: 'translate(-50%, -50%) rotate(-90deg)',
      }}>{label}</div>
    </>
  )
}

export default function App() {
  const top = PANEL_TOPS[0]
  return (
    <div style={{
      position: 'absolute', left: 0, top: 0, width: 1350, height: 1050, background: '#fff',
      fontFamily: FONT, color: '#000', overflow: 'hidden',
    }}>
      <div style={{
        position: 'absolute', left: PLOT_LEFT, top: 92.8, width: PLOT_WIDTH, textAlign: 'center',
        fontSize: 25, lineHeight: 1, whiteSpace: 'nowrap',
      }}>{TITLE}</div>

      <div style={{ position: 'absolute', left: 0, top: top - CHART_PAD_TOP }}>
        <ComposedChart width={1350} height={CHART_H} data={rawData}
          margin={{ top: CHART_PAD_TOP, right: 0, bottom: 0, left: 0 }}>
          <XAxis type="number" dataKey="t" domain={[-1, 24]} allowDataOverflow ticks={topTicks}
            interval={0} height={AXIS_H} axisLine={false} tickLine={TICK_LINE} tickSize={7} tickMargin={9}
            tick={TICK_STYLE} tickFormatter={(v: number) => topTickLabels[topTicks.indexOf(v)]} />
          <YAxis yAxisId="left" type="number" domain={[-2571090, -2564580]} allowDataOverflow
            ticks={leftTicks} interval={0} width={PLOT_LEFT} axisLine={false} tickLine={TICK_LINE}
            tickSize={7} tickMargin={7.5} tick={TICK_STYLE} tickFormatter={minus} />
          <YAxis yAxisId="right" orientation="right" type="number" domain={[-7100000, 0]} allowDataOverflow
            ticks={rightTicks} interval={0} width={1350 - PLOT_LEFT - PLOT_WIDTH} axisLine={false}
            tickLine={TICK_LINE} tickSize={7} tickMargin={8} tick={TICK_STYLE} tickFormatter={minus} />
          <Line yAxisId="left" dataKey="raw" name="Raw Data" type="linear" stroke={BLUE} strokeWidth={2}
            dot={false} isAnimationActive={false} />
          <Line yAxisId="right" dataKey="level" type="linear" stroke={BLUE} strokeWidth={1.6}
            dot={false} connectNulls isAnimationActive={false} />
        </ComposedChart>
      </div>
      <Frame top={top} />

      {/* legend, drawn over the line like matplotlib's */}
      <div style={{
        position: 'absolute', left: 1121, top: 232.5, width: 89, height: 19.5, boxSizing: 'border-box',
        border: '1px solid #cccccc', borderRadius: 3, background: 'rgba(255,255,255,0.8)',
      }}>
        <div style={{ position: 'absolute', left: 3.5, top: 8, width: 23, height: 2, background: BLUE }} />
        <div style={{ position: 'absolute', left: 33, top: 3, fontSize: 10.4, lineHeight: 1, whiteSpace: 'nowrap' }}>
          Raw Data
        </div>
      </div>

      <AzimuthPanel top={PANEL_TOPS[1]} points={azFull} label="Azimuth Full" showHours={false} />
      <AzimuthPanel top={PANEL_TOPS[2]} points={azHalf} label="Azimuth Half" showHours />

      <div style={{
        position: 'absolute', right: 1350 - 1214, top: 949.5, fontSize: 11.8, lineHeight: 1, whiteSpace: 'nowrap',
      }}>{DATE_OFFSET}</div>
    </div>
  )
}
